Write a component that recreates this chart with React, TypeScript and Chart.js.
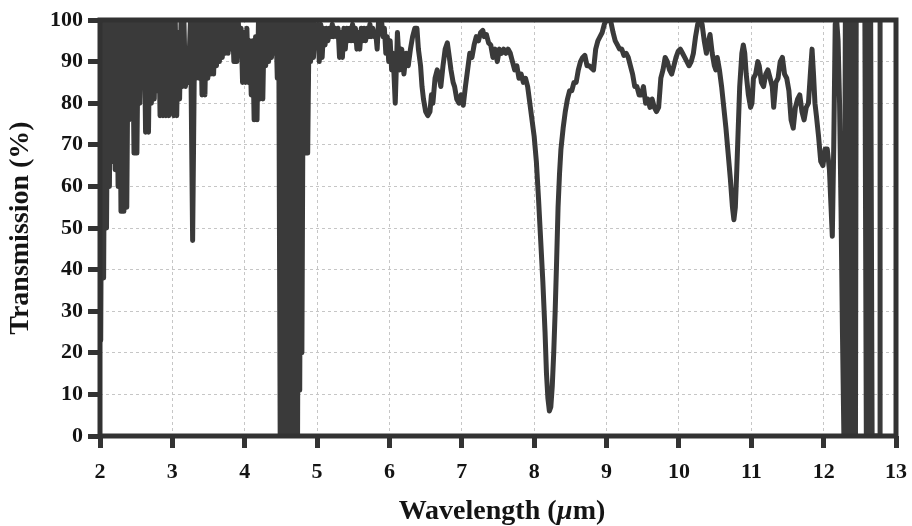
import React, { useEffect, useRef } from 'react';
import { Chart, registerables } from 'chart.js';

Chart.register(...registerables);

// Wavelength (µm) and transmission (%), region by region
const wlNear = [
  2.00, 2.01, 2.03, 2.05, 2.07, 2.09, 2.11, 2.13, 2.15, 2.17, 2.19, 2.21, 2.23, 2.25, 2.27, 2.29,
  2.31, 2.33, 2.35, 2.37, 2.39, 2.40, 2.42, 2.43, 2.45, 2.47, 2.49, 2.51, 2.53, 2.55, 2.57, 2.59,
  2.61, 2.63, 2.65, 2.67, 2.69, 2.71, 2.73, 2.75, 2.77, 2.79, 2.81, 2.83, 2.85, 2.87, 2.89, 2.91,
  2.93, 2.95, 2.97, 2.98, 3.00, 3.02, 3.04, 3.06, 3.08, 3.10, 3.12, 3.14, 3.16, 3.18, 3.20, 3.22,
  3.25, 3.28, 3.31, 3.33, 3.35, 3.37, 3.39, 3.41, 3.43, 3.45, 3.47, 3.49, 3.51, 3.53, 3.55, 3.57,
  3.59, 3.61, 3.63, 3.65, 3.67, 3.69, 3.71, 3.73, 3.75, 3.77, 3.79, 3.81, 3.83, 3.85, 3.87, 3.89,
  3.91, 3.93, 3.95, 3.97, 3.99, 4.01, 4.03, 4.05, 4.07, 4.09, 4.11, 4.13, 4.15, 4.17, 4.19, 4.21,
  4.23, 4.25, 4.27, 4.29, 4.31, 4.33, 4.35, 4.37, 4.39, 4.41, 4.43, 4.45,
];
const trNear = [
  100, 23, 100, 38, 100, 50, 100, 60, 100, 66, 100, 64, 100, 60, 100, 54,
  100, 54, 100, 55, 100, 76, 100, 82, 100, 68, 100, 68, 100, 80, 100, 86,
  100, 73, 100, 73, 100, 80, 100, 81, 100, 83, 100, 77, 100, 77, 100, 77,
  100, 77, 100, 88, 100, 77, 100, 77, 97, 81, 100, 84, 100, 84, 88, 85,
  100, 47, 100, 86, 100, 86, 100, 82, 100, 82, 100, 86, 100, 87, 100, 87,
  100, 89, 100, 90, 100, 91, 100, 92, 100, 92, 100, 93, 100, 90, 100, 90,
  100, 93, 98, 85, 97, 85, 98, 85, 95, 82, 95, 76, 96, 76, 100, 81,
  100, 81, 100, 89, 100, 90, 100, 91, 100, 92, 100, 86,
];

const wlBand = [
  4.47, 4.49, 4.51, 4.53, 4.55, 4.57, 4.59, 4.61, 4.63, 4.65, 4.67, 4.69, 4.71, 4.73, 4.75, 4.76,
  4.78, 4.79, 4.81, 4.83, 4.85, 4.87, 4.89, 4.91,
];
const trBand = [
  100, 0, 100, 0, 100, 0, 100, 0, 100, 0, 100, 0, 100, 0, 100, 11,
  100, 20, 100, 68, 100, 68, 100, 90,
];

const wlMid1 = [
  4.93, 4.95, 4.97, 4.99, 5.01, 5.03, 5.05, 5.07, 5.09, 5.11, 5.13, 5.15, 5.17, 5.19, 5.21, 5.23,
  5.25, 5.27, 5.29, 5.31, 5.33, 5.35, 5.37, 5.39, 5.41, 5.43, 5.45, 5.47, 5.49, 5.51, 5.53, 5.55,
  5.57, 5.59, 5.61, 5.63, 5.65, 5.67, 5.69, 5.71, 5.73, 5.75, 5.77, 5.79, 5.81, 5.83, 5.85, 5.87,
  5.89, 5.91, 5.93, 5.95, 5.97, 5.99, 6.01, 6.03, 6.05, 6.08,
];
const trMid1 = [
  100, 91, 99, 94, 99, 90, 99, 91, 98, 94, 98, 95, 98, 96, 99, 96,
  98, 96, 98, 91, 97, 91, 98, 93, 98, 95, 98, 95, 99, 95, 98, 93,
  97, 93, 98, 95, 98, 95, 98, 96, 99, 96, 98, 96, 97, 93, 100, 97,
  100, 96, 98, 92, 96, 90, 95, 88, 92, 80,
];

const wlMid2 = [
  6.11, 6.14, 6.17, 6.20, 6.23, 6.26, 6.29, 6.32, 6.35, 6.38, 6.40, 6.43, 6.45, 6.47, 6.50, 6.53,
  6.56, 6.58, 6.60, 6.63, 6.66, 6.69, 6.71, 6.74, 6.77, 6.80, 6.82, 6.85, 6.88, 6.90, 6.93, 6.96,
  6.99, 7.02, 7.05, 7.08, 7.11, 7.14, 7.17, 7.20, 7.23, 7.26, 7.29, 7.31, 7.34, 7.37, 7.40, 7.43,
  7.46, 7.49, 7.52, 7.55, 7.58, 7.61, 7.64, 7.67, 7.70, 7.73, 7.76, 7.79, 7.82, 7.85, 7.88, 7.91,
  7.94, 7.97, 8.00, 8.03, 8.06, 8.09, 8.12, 8.15, 8.17, 8.19, 8.21, 8.23, 8.25, 8.27, 8.29, 8.31,
  8.33, 8.35, 8.37, 8.40, 8.43, 8.46, 8.49, 8.52, 8.55, 8.58, 8.61, 8.64, 8.67, 8.70, 8.73, 8.76,
  8.79, 8.82, 8.85, 8.88, 8.91, 8.94, 8.97, 9.00,
];
const trMid2 = [
  97, 88, 93, 87, 92, 89, 93, 96, 98, 98, 93, 89, 84, 81, 78, 77,
  78, 82, 80, 86, 88, 86, 84, 89, 93, 94.5, 92, 88, 85, 84, 81, 80,
  82, 79.5, 84, 88, 92, 91, 94, 96, 95, 97, 97.5, 96, 96.5, 94.5, 94, 91,
  93, 90, 93, 92, 93, 92, 93, 92, 90, 88, 89, 86, 87, 85, 86, 84,
  80, 76, 72, 66, 57, 47, 37, 25, 15, 9, 6, 7, 12, 20, 30, 42,
  55, 63, 69, 74, 78, 81, 83, 83, 85, 85, 88, 90, 91, 91.5, 89, 89,
  88.5, 88, 93, 95, 96, 97, 99, 100,
];

const wlMid3 = [
  9.03, 9.06, 9.09, 9.12, 9.15, 9.18, 9.21, 9.24, 9.27, 9.30, 9.33, 9.36, 9.39, 9.42, 9.45, 9.48,
  9.51, 9.54, 9.57, 9.60, 9.63, 9.66, 9.69, 9.72, 9.75, 9.78, 9.81, 9.84, 9.87, 9.90, 9.93, 9.96,
  9.99, 10.02, 10.05, 10.08, 10.11, 10.14, 10.17, 10.20, 10.23, 10.26, 10.29, 10.32, 10.35, 10.38, 10.41, 10.43,
  10.46, 10.49, 10.51, 10.53, 10.56, 10.59, 10.62, 10.65, 10.68, 10.71, 10.74, 10.76, 10.78, 10.80, 10.82, 10.84,
  10.87, 10.89, 10.91, 10.93, 10.96, 10.99, 11.01, 11.03, 11.06, 11.09, 11.11, 11.14, 11.17, 11.20, 11.23, 11.26,
  11.29, 11.31, 11.34, 11.37, 11.40, 11.43, 11.46, 11.49, 11.52, 11.55, 11.58, 11.61, 11.64, 11.67, 11.70, 11.73,
  11.76, 11.79, 11.82, 11.84, 11.86, 11.88, 11.90, 11.93, 11.96, 11.99, 12.02, 12.05, 12.08, 12.10, 12.12, 12.14,
  12.16, 12.18, 12.20, 12.22, 12.24, 12.26,
];
const trMid3 = [
  100, 99.5, 97, 95, 94, 93, 93, 91.5, 92, 91, 89, 87, 84, 84, 82, 82,
  84, 80, 81, 79, 81, 79, 78, 79, 86, 88, 91, 90, 88, 87, 89, 91,
  92.5, 93, 92, 91, 90, 89, 90, 92, 96, 99, 100, 99, 95, 92, 95, 96.5,
  92, 89, 88, 91, 88, 84, 79, 74, 68, 62, 55, 52, 55, 64, 74, 84,
  92, 94, 92, 87, 82, 79, 80, 86, 87, 90, 89, 85, 84, 87, 88, 86,
  84, 79, 85, 86, 90, 91, 87, 86, 83, 76, 74, 79, 81, 82, 78, 76,
  79, 80, 88, 93, 87, 80, 77, 72, 66, 65, 69, 69, 64, 56, 48, 70,
  99, 100, 95, 80, 55, 25,
];

const wlFar = [
  12.28, 12.30, 12.32, 12.34, 12.36, 12.38, 12.40, 12.42, 12.44, 12.45,
  12.57, 12.59, 12.61, 12.63, 12.65, 12.67, 12.78, 12.78,
];
const trFar = [
  0, 100, 0, 100, 0, 100, 0, 100, 0, 100,
  100, 0, 100, 0, 100, 0, 0, 100,
];

const xTicks = [2, 3, 4, 5, 6, 7, 8, 9, 10, 11, 12, 13];
const yTicks = [0, 10, 20, 30, 40, 50, 60, 70, 80, 90, 100];

const SERIF = '"Liberation Serif", "Times New Roman", serif';
const INK = '#141414';
const LINE = '#3a3a3a';

const framePlugin = {
  id: 'frame',
  afterDatasetsDraw(chart: any) {
    const { ctx, chartArea } = chart;
    const { left, top, right, bottom } = chartArea;
    ctx.save();
    ctx.strokeStyle = '#323232';
    ctx.lineWidth = 5;
    ctx.strokeRect(left, top, right - left, bottom - top);
    ctx.restore();
  },
};

export default function App() {
  const canvasRef = useRef<HTMLCanvasElement | null>(null);

  useEffect(() => {
    document.body.style.margin = '0';
    const wavelength = [...wlNear, ...wlBand, ...wlMid1, ...wlMid2, ...wlMid3, ...wlFar];
    const transmission = [...trNear, ...trBand, ...trMid1, ...trMid2, ...trMid3, ...trFar];
    const points = wavelength.map((x, i) => ({ x, y: transmission[i] }));

    const tickFont = { family: SERIF, size: 22, weight: 'bold' as const };
    const grid = {
      color: '#c6c6c6',
      lineWidth: 1,
      tickColor: '#333333',
      tickWidth: 5,
      tickLength: 12,
      drawTicks: true,
    };

    const chart = new Chart(canvasRef.current as HTMLCanvasElement, {
      type: 'line',
      data: {
        datasets: [
          {
            label: 'Transmission',
            data: points,
            borderColor: LINE,
            borderWidth: 5,
            pointRadius: 0,
            tension: 0,
            borderJoinStyle: 'round',
            fill: false,
          },
        ],
      },
      options: {
        responsive: false,
        animation: false,
        devicePixelRatio: 1,
        layout: { padding: { top: 20, right: 16, left: 0, bottom: 0 } },
        plugins: { legend: { display: false }, tooltip: { enabled: false } },
        scales: {
          x: {
            type: 'linear',
            min: xTicks[0],
            max: xTicks[xTicks.length - 1],
            afterFit: (s: any) => {
              s.height = 90;
              s.paddingLeft = 0;
              s.paddingRight = 0;
            },
            afterBuildTicks: (s: any) => {
              s.ticks = xTicks.map((v) => ({ value: v }));
            },
            ticks: { autoSkip: false, maxRotation: 0, padding: 11, font: tickFont, color: INK },
            grid,
            border: { display: false, dash: [3, 3] },
          },
          y: {
            type: 'linear',
            min: yTicks[0],
            max: yTicks[yTicks.length - 1],
            afterFit: (s: any) => {
              s.width = 100;
              s.paddingTop = 0;
              s.paddingBottom = 0;
            },
            afterBuildTicks: (s: any) => {
              s.ticks = yTicks.map((v) => ({ value: v }));
            },
            ticks: { autoSkip: false, padding: 5, font: tickFont, color: INK },
            grid,
            border: { display: false, dash: [3, 3] },
            title: {
              display: true,
              text: 'Transmission (%)',
              color: INK,
              font: { family: SERIF, size: 28, weight: 'bold' },
              padding: { top: 4, bottom: 4 },
            },
          },
        },
      },
      plugins: [framePlugin],
    });
    return () => chart.destroy();
  }, []);

  return (
    <div style={{ position: 'relative', width: 912, height: 526, background: '#ffffff' }}>
      <canvas ref={canvasRef} width={912} height={526} style={{ display: 'block' }} />
      <div
        style={{
          position: 'absolute',
          left: 104,
          width: 796,
          top: 494,
          height: 32,
          lineHeight: '32px',
          textAlign: 'center',
          fontFamily: SERIF,
          fontWeight: 'bold',
          fontSize: 28,
          color: INK,
        }}
      >
        Wavelength (<i>µ</i>m)
      </div>
    </div>
  );
}
